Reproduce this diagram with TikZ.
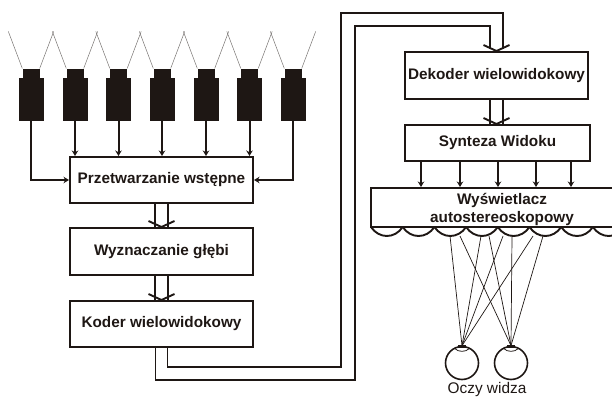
\documentclass[tikz,border=0pt]{standalone}
\usepackage{fontspec}
\setmainfont{Liberation Sans}
\usetikzlibrary{arrows.meta}
\definecolor{ink}{HTML}{1E1714}
\tikzset{
  blok/.style={draw=ink,line width=2pt,text=ink,font=\bfseries\fontsize{15.3}{18}\selectfont,align=center,inner sep=0pt},
  korpus/.style={fill=ink,draw=none,minimum width=25pt,minimum height=43pt,inner sep=0pt},
  oko/.style={circle,draw=ink,line width=1.6pt,minimum size=33pt,inner sep=0pt},
  rura/.style={draw=ink,line width=1.9pt},
  strzalka/.style={draw=ink,line width=2pt,-{Stealth[length=5.5pt,width=6.5pt]}},
  promien/.style={draw=ink,line width=0.7pt},
  antena/.style={draw=ink!60,line width=0.5pt}
}
\begin{document}
\begin{tikzpicture}[>=stealth,x=1pt,y=-1pt]
  \clip (0,0) rectangle (612,398);
  \node[blok,minimum width=183pt,minimum height=46pt] (prep) at (161.5,180) {Przetwarzanie wstępne};
  \node[blok,minimum width=183pt,minimum height=47pt] (depth) at (161.5,251.5) {Wyznaczanie głębi};
  \node[blok,minimum width=183pt,minimum height=46pt] (coder) at (161.5,324) {Koder wielowidokowy};
  \node[blok,minimum width=183pt,minimum height=47pt] (decoder) at (496.5,75.5) {Dekoder wielowidokowy};
  \node[blok,minimum width=185pt,minimum height=36pt] (synth) at (497.5,143) {Synteza Widoku};
  \node[blok,minimum width=262pt,minimum height=39pt] (disp) at (502,207.5) {\rule{0pt}{16pt}Wyświetlacz\\autostereoskopowy};
  % kamery
  \foreach \i/\xx in {1/31,2/75,3/118.5,4/162,5/206,6/249.5,7/293} {
    \node[korpus] (cam\i) at (\xx,99.5) {};
    \node[fill=ink,minimum width=17pt,minimum height=9pt,inner sep=0pt,anchor=south] (lens\i) at (cam\i.north) {};
    \draw[antena] (lens\i.north west) -- ++(-14,-37);
    \draw[antena] (lens\i.north east) -- ++(14,-37);
  }
  \foreach \i in {2,...,6}
    \draw[strzalka] (cam\i.south) -- (cam\i.south |- prep.north);
  \draw[strzalka] (cam1.south) |- (prep.west);
  \draw[strzalka] (cam7.south) |- (prep.east);
  % podwojne strzalki
  \foreach \a/\b in {prep/depth,depth/coder,decoder/synth} {
    \draw[rura] ([xshift=-6.5pt]\a.south) -- ([xshift=-6.5pt]\a.south |- \b.north);
    \draw[rura] ([xshift=6.5pt]\a.south) -- ([xshift=6.5pt]\a.south |- \b.north);
    \draw[rura] ([xshift=-13pt,yshift=6pt]\a.south |- \b.north) -- (\a.south |- \b.north) -- ([xshift=13pt,yshift=6pt]\a.south |- \b.north);
  }
  % sciezka miedzy koderem a dekoderem
  \draw[rura] ([xshift=-6pt]coder.south) |- (355,380) |- (490,26) -- ([xshift=-6.5pt,yshift=2pt]decoder.north);
  \draw[rura] ([xshift=6pt]coder.south) |- (341,367) |- (503,13) -- ([xshift=6.5pt,yshift=2pt]decoder.north);
  \draw[rura] ([xshift=-13pt,yshift=6pt]decoder.north) -- (decoder.north) -- ([xshift=13pt,yshift=6pt]decoder.north);
  \foreach \xx in {421,460,498,536,571}
    \draw[strzalka] (\xx,161) -- (\xx,187);
  % soczewki
  \foreach \xx in {371,402.7,434.4,466.1,497.8,529.5,561.2,592.9}
    \draw[rura] (\xx,227) .. controls +(8,12) and +(-8,12) .. (\xx+31.7,227);
  % oczy
  \node[oko] (eyeL) at (462,363) {};
  \node[oko] (eyeR) at (511,363) {};
  \foreach \e in {eyeL,eyeR} {
    \draw[ink,line width=0.8pt] ([xshift=-7pt,yshift=-3pt]\e.north) .. controls +(3,3.5) and +(-3,3.5) .. ([xshift=7pt,yshift=-3pt]\e.north);
    \fill[ink] ([xshift=-4pt,yshift=1pt]\e.north) rectangle ([xshift=4pt,yshift=-2pt]\e.north);
  }
  \foreach \xx in {450,481,503,533}
    \draw[promien] (\xx,236) -- (eyeL.north);
  \foreach \xx in {460,489,512,543}
    \draw[promien] (\xx,236) -- (eyeR.north);
  \node[text=ink,font=\fontsize{15.4}{18}\selectfont] (viewer) at (487,390) {Oczy widza};
\end{tikzpicture}
\end{document}
